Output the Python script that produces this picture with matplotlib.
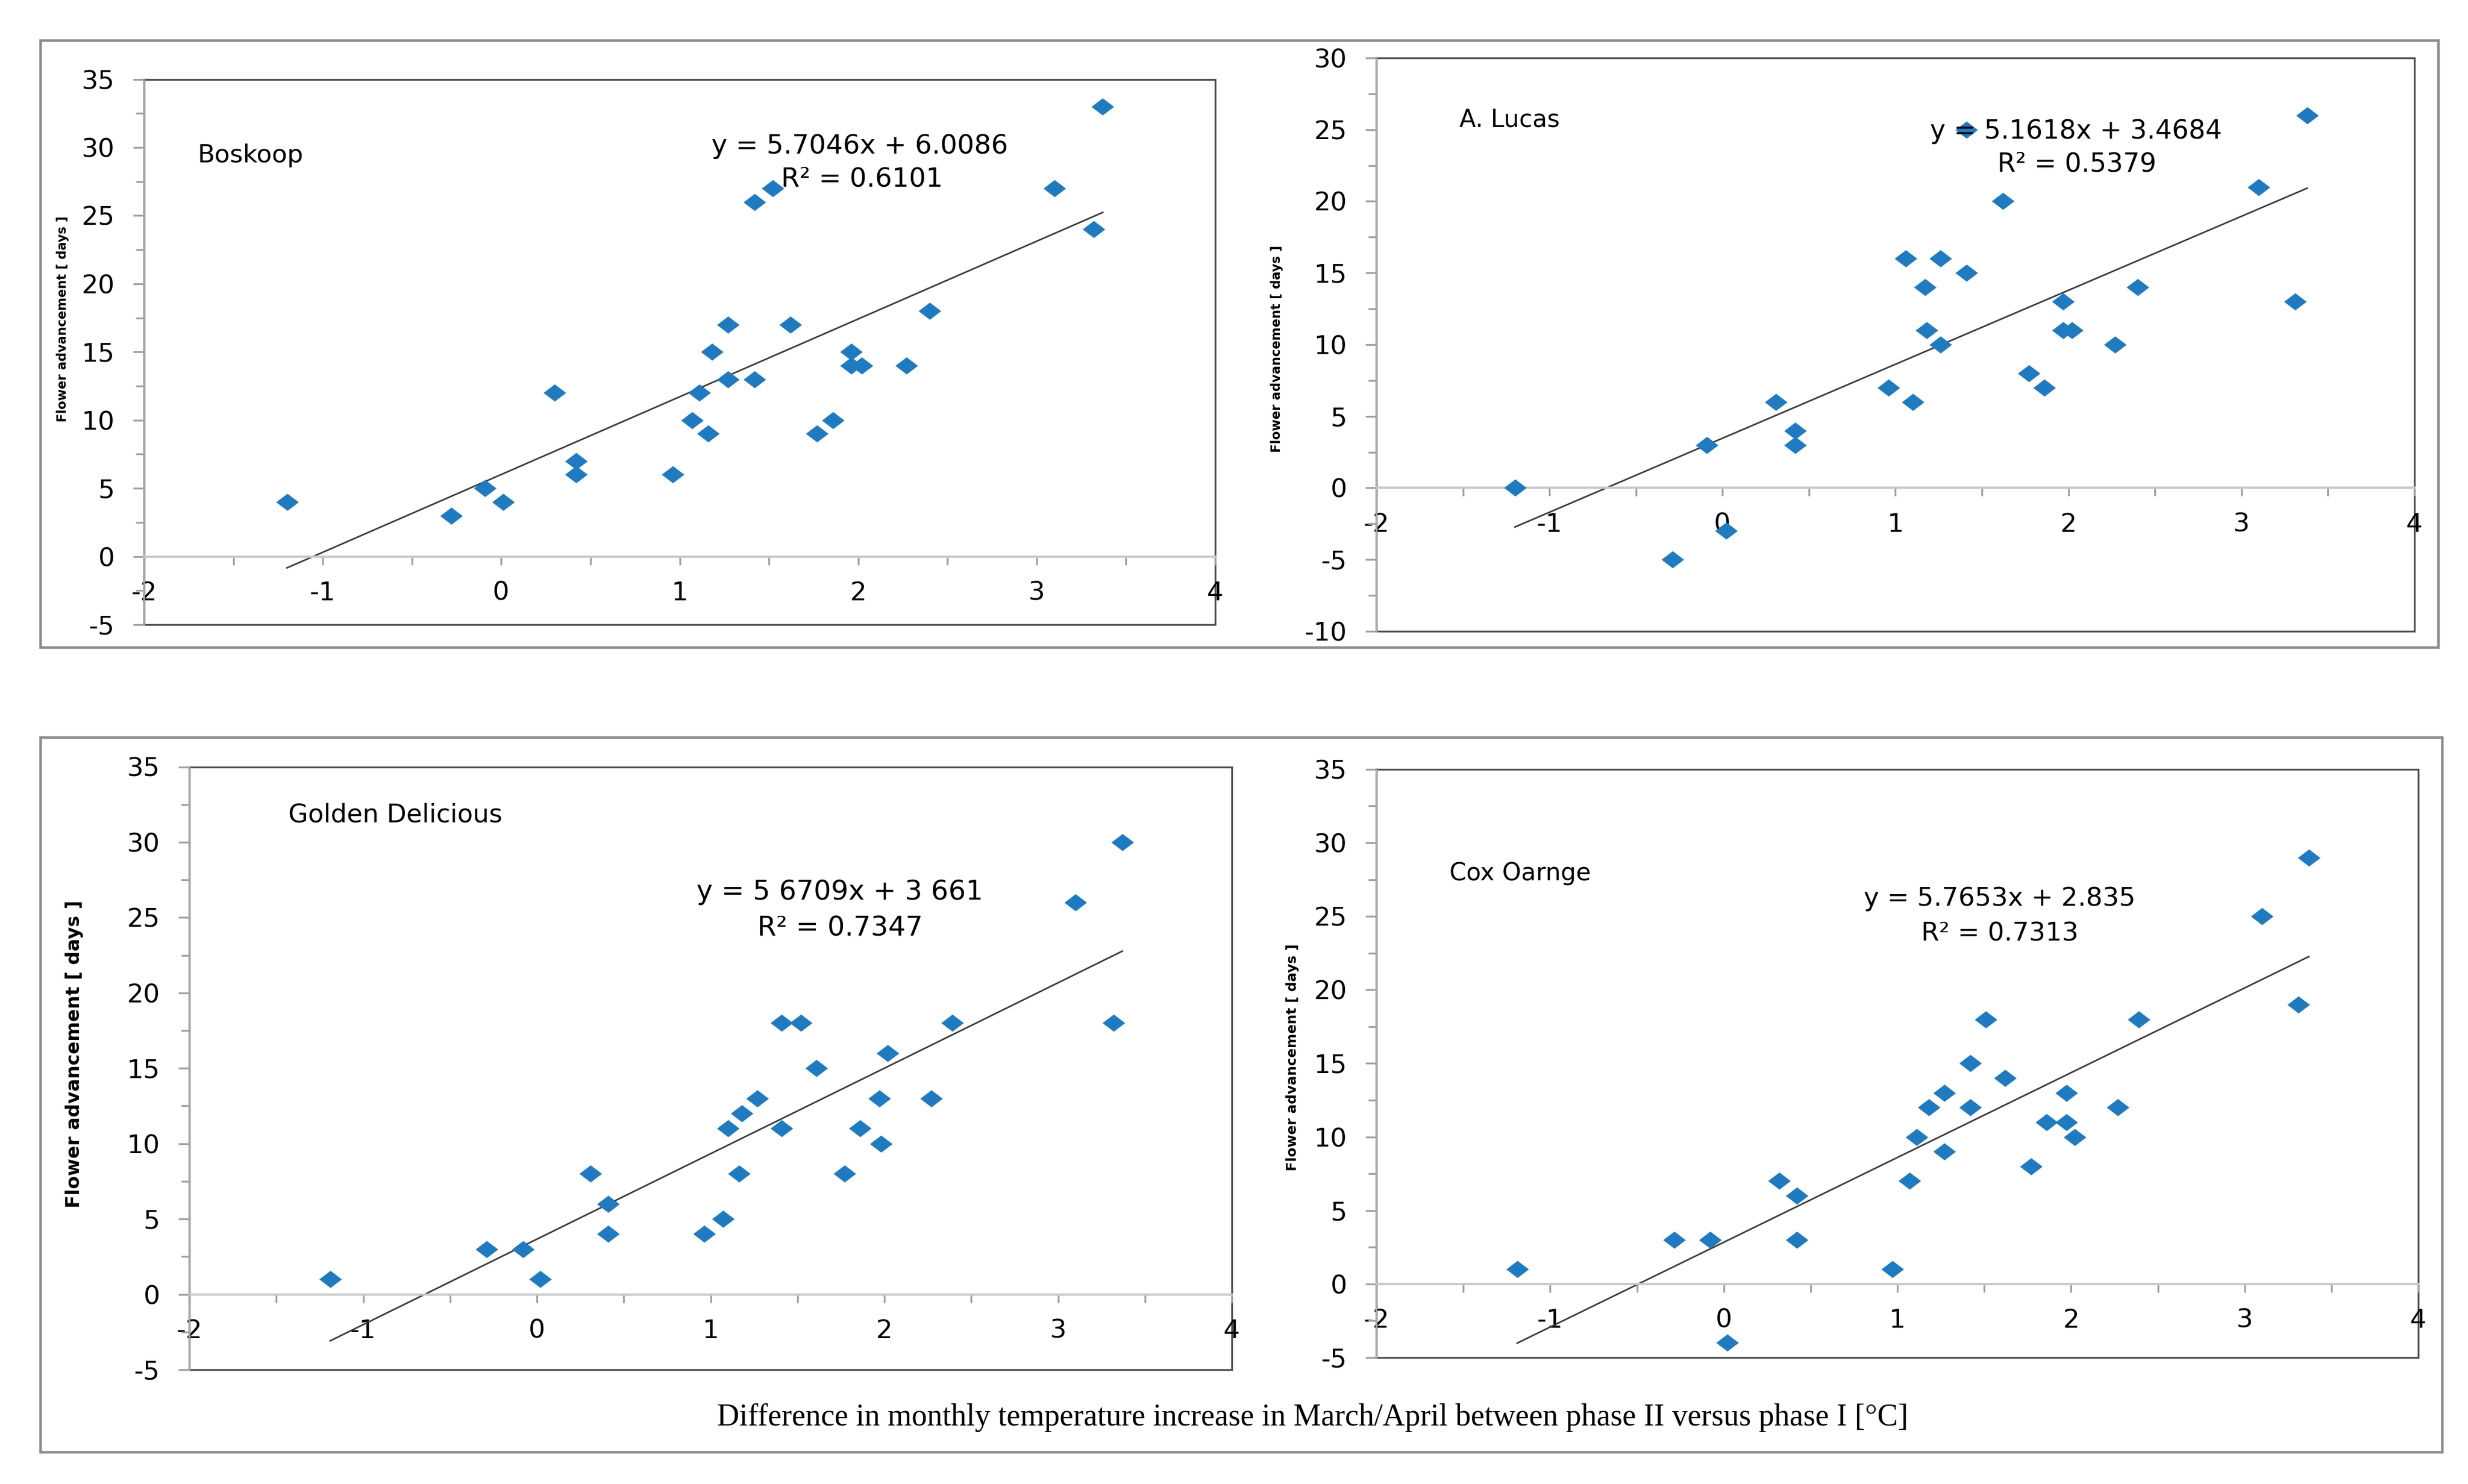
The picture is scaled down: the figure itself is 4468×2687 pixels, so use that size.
import numpy as np
import matplotlib
matplotlib.use("Agg")
import matplotlib.pyplot as plt
from matplotlib.patches import Rectangle
from matplotlib.path import Path

plt.rcParams['font.family'] = ['DejaVu Sans']
plt.rcParams['axes.unicode_minus'] = False

# ---------------- data ----------------
boskoop_x = [-1.20, -0.28, -0.09, 0.01, 0.30, 0.42, 0.42, 0.96, 1.07, 1.11, 1.16, 1.18, 1.27, 1.27,
             1.42, 1.42, 1.52, 1.62, 1.77, 1.86, 1.96, 1.96, 2.02, 2.27, 2.40, 3.10, 3.32, 3.37]
boskoop_y = [4, 3, 5, 4, 12, 7, 6, 6, 10, 12, 9, 15, 17, 13,
             13, 26, 27, 17, 9, 10, 15, 14, 14, 14, 18, 27, 24, 33]
boskoop_fit = [5.7046, 6.0086]

lucas_x = [-1.20, -0.29, -0.09, 0.02, 0.31, 0.42, 0.42, 0.96, 1.06, 1.10, 1.17, 1.18, 1.26, 1.26,
           1.41, 1.41, 1.62, 1.77, 1.86, 1.97, 1.97, 2.02, 2.27, 2.40, 3.10, 3.31, 3.38]
lucas_y = [0, -5, 3, -3, 6, 4, 3, 7, 16, 6, 14, 11, 16, 10,
           25, 15, 20, 8, 7, 13, 11, 11, 10, 14, 21, 13, 26]
lucas_fit = [5.1618, 3.4684]

golden_x = [-1.19, -0.29, -0.08, 0.02, 0.31, 0.41, 0.41, 0.965, 1.07, 1.10, 1.165, 1.18, 1.27,
            1.41, 1.41, 1.52, 1.61, 1.77, 1.86, 1.97, 1.98, 2.02, 2.27, 2.39, 3.10, 3.32, 3.37]
golden_y = [1, 3, 3, 1, 8, 6, 4, 4, 5, 11, 8, 12, 13,
            11, 18, 18, 15, 8, 11, 13, 10, 16, 13, 18, 26, 18, 30]
golden_fit = [5.6709, 3.661]

cox_x = [-1.19, -0.285, -0.08, 0.02, 0.32, 0.42, 0.42, 0.97, 1.07, 1.11, 1.18, 1.27, 1.27,
         1.42, 1.42, 1.51, 1.62, 1.77, 1.86, 1.975, 1.975, 2.02, 2.27, 2.39, 3.10, 3.31, 3.37]
cox_y = [1, 3, 3, -4, 7, 6, 3, 1, 7, 10, 12, 13, 9,
         15, 12, 18, 14, 8, 11, 13, 11, 10, 12, 18, 25, 19, 29]
cox_fit = [5.7653, 2.835]

panel_names = ["Boskoop", "A. Lucas", "Golden Delicious", "Cox Oarnge"]
equations = ["y = 5.7046x + 6.0086", "y = 5.1618x + 3.4684", "y = 5 6709x + 3 661", "y = 5.7653x + 2.835"]
r2_texts = ["R\u00b2 = 0.6101", "R\u00b2 = 0.5379", "R\u00b2 = 0.7347", "R\u00b2 = 0.7313"]
y_label = "Flower advancement [ days ]"
x_label = "Difference in monthly temperature increase in March/April between phase II versus phase I [\u00b0C]"
x_ticks = [-2, -1, 0, 1, 2, 3, 4]

# ---------------- figure ----------------
W, H = 4468, 2687
fig = plt.figure(figsize=(W / 300, H / 300), dpi=300)
fig.patch.set_facecolor('white')
renderer = fig.canvas.get_renderer()

def fx(px):
    return px / W

def fy(py):
    return (H - py) / H

def fit_text(t, target_px, vertical=False):
    """scale a text's font size so that its length matches target_px"""
    bb = t.get_window_extent(renderer)
    cur = bb.height if vertical else bb.width
    t.set_fontsize(t.get_fontsize() * target_px / cur)

# outer boxes
for (x0, y0, x1, y1) in [(73, 73, 4414, 1172), (73, 1335, 4421, 2629)]:
    fig.add_artist(Rectangle((fx(x0), fy(y1)), fx(x1) - fx(x0), (y1 - y0) / H,
                             transform=fig.transFigure, fill=False, ec='#8C8C8C', lw=1.1))

diamond = Path([(0, 0.76), (1, 0), (0, -0.76), (-1, 0), (0, 0.76)],
               [Path.MOVETO, Path.LINETO, Path.LINETO, Path.LINETO, Path.CLOSEPOLY])
BLUE = '#1F7BC1'

def panel(box, xs, ys, fit, ylim, name, name_xy, name_w, eq, r2, eq_xy, r2_xy, eq_w,
          ylab_xy, ylab_w):
    l, t, r, b = box
    ax = fig.add_axes([fx(l), fy(b), fx(r) - fx(l), (b - t) / H])
    ax.set_xlim(-2, 4)
    ax.set_ylim(*ylim)
    ax.patch.set_alpha(0)
    for s in ['top', 'right']:
        ax.spines[s].set_visible(False)
    ax.spines['bottom'].set_position(('data', 0))
    ax.spines['bottom'].set_color('#C8C8C8')
    ax.spines['bottom'].set_linewidth(1.0)
    ax.spines['left'].set_color('#A6A6A6')
    ax.spines['left'].set_linewidth(0.9)
    ax.add_patch(Rectangle((0, 0), 1, 1, transform=ax.transAxes, fill=False,
                           ec='#505050', lw=0.8, clip_on=False, zorder=1))
    ax.set_xticks(x_ticks)
    ax.set_xticklabels([str(v) for v in x_ticks])
    ax.set_xticks(np.arange(-2, 4.01, 0.5), minor=True)
    yt = np.arange(ylim[0], ylim[1] + 0.1, 5)
    ax.set_yticks(yt)
    ax.set_yticklabels([str(int(v)) for v in yt])
    ax.set_yticks(np.arange(ylim[0], ylim[1] + 0.1, 2.5), minor=True)
    ax.tick_params(axis='x', which='both', direction='out', length=3.6, width=0.8,
                   color='#A0A0A0', pad=7, labelsize=11.3)
    ax.tick_params(axis='y', which='major', direction='out', length=4.8, width=0.8,
                   color='#A0A0A0', pad=8, labelsize=11.3)
    ax.tick_params(axis='y', which='minor', direction='out', length=3.6, width=0.8,
                   color='#A0A0A0')
    xs = np.asarray(xs)
    ys = np.asarray(ys)
    ax.plot(xs, ys, linestyle='none', marker=diamond, ms=9.8, color=BLUE, mec='none',
            zorder=3, clip_on=False)
    lx = np.array([xs.min(), xs.max()])
    ax.plot(lx, fit[0] * lx + fit[1], color='#3C3C3C', lw=0.7, zorder=2)
    tn = ax.text(name_xy[0], name_xy[1], name, ha='left', va='center', fontsize=10)
    fit_text(tn, name_w)
    te = ax.text(eq_xy[0], eq_xy[1], eq, ha='center', va='center', fontsize=11, zorder=4)
    fit_text(te, eq_w)
    ax.text(r2_xy[0], r2_xy[1], r2, ha='center', va='center', fontsize=te.get_fontsize(), zorder=4)
    ty = fig.text(fx(ylab_xy[0]), fy(ylab_xy[1]), y_label, rotation=90, ha='center', va='center',
                  fontweight='bold', fontsize=6)
    fit_text(ty, ylab_w, vertical=True)
    return ax

panel((261, 143.5, 2200, 1131), boskoop_x, boskoop_y, boskoop_fit, (-5, 35),
      panel_names[0], (-1.70, 29.4), 191, equations[0], r2_texts[0], (2.01, 30.1), (2.02, 27.7), 538,
      (114, 577), 376)
panel((2492, 105, 4371, 1143), lucas_x, lucas_y, lucas_fit, (-10, 30),
      panel_names[1], (-1.52, 25.7), 182, equations[1], r2_texts[1], (2.045, 24.9), (2.05, 22.6), 530,
      (2311, 632), 378)
panel((343, 1388.5, 2230, 2480), golden_x, golden_y, golden_fit, (-5, 35),
      panel_names[2], (-1.43, 31.8), 387, equations[2], r2_texts[2], (1.745, 26.7), (1.745, 24.3), 519,
      (135, 1908.6), 560)
panel((2492, 1392.9, 4378, 2457.9), cox_x, cox_y, cox_fit, (-5, 35),
      panel_names[3], (-1.58, 27.9), 256, equations[3], r2_texts[3], (1.59, 26.2), (1.59, 23.8), 493,
      (2340, 1914), 412)

tx = fig.text(fx(2376), fy(2567), x_label, ha='center', va='center', fontsize=12.5,
              family=['Liberation Serif', 'DejaVu Serif'])
fit_text(tx, 2160)

fig.savefig('out.png', dpi=300)
